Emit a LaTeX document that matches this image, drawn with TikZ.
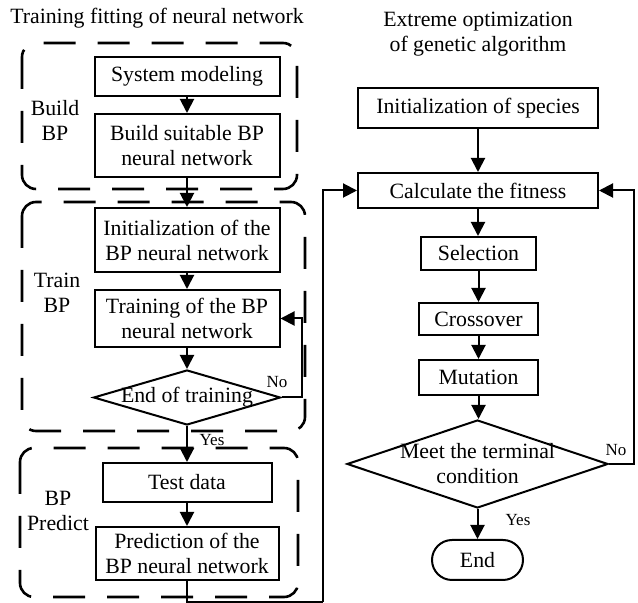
\documentclass[tikz,border=0pt]{standalone}
\usepackage{fontspec}
\setmainfont{Liberation Serif}
\usetikzlibrary{positioning, calc, arrows.meta, shapes.geometric}

\begin{document}
\begin{tikzpicture}[x=0.5pt, y=-0.5pt, font=\fontsize{10.9}{12.5}\selectfont,
    every node/.style={inner sep=0pt, align=center},
    box/.style={draw, line width=1pt},
    dec/.style={draw, line width=1pt, shape=diamond},
    group/.style={draw, line width=1.3pt, rounded corners=7pt, dash pattern=on 16pt off 11pt},
    line/.style={line width=1pt},
    arr/.style={line width=1pt, -{Triangle[length=7pt, width=7pt]}},
    tag/.style={font=\fontsize{8.5}{10}\selectfont}]
    \useasboundingbox (0,0) rectangle (638,603);

    % titles
    \node (ttl) at (157,18) {Training fitting of neural network};
    \node (ttr) at (478,34.5) {Extreme optimization\\of genetic algorithm};

    % groups on the left
    \draw[group] (22,43) rectangle (297,189);
    \draw[group] (22,202) rectangle (305,431);
    \draw[group] (20,448) rectangle (298,597);
    \node (gbuild) at (55,120) {Build\\BP};
    \node (gtrain) at (57,293) {Train\\BP};
    \node (gpred) at (58,511) {BP\\Predict};

    % left column
    \node[box, minimum width=92.5pt, minimum height=19.5pt] (sysmod) at (187,76.5) {System modeling};
    \node[box, minimum width=92.5pt, minimum height=31.5pt] (buildbp) at (187,145.5) {Build suitable BP\\neural network};
    \node[box, minimum width=92.5pt, minimum height=32pt] (initbp) at (187,240) {Initialization of the\\BP neural network};
    \node[box, minimum width=92.5pt, minimum height=28.5pt] (trainbp) at (187,318.5) {Training of the BP\\neural network};
    \node[dec, minimum width=93.5pt, minimum height=27.5pt, label={center:End of training}] (endtrain) at (187,397.5) {};
    \node[box, minimum width=84.5pt, minimum height=19.5pt] (testdata) at (187,482.5) {Test data};
    \node[box, minimum width=91.5pt, minimum height=26.5pt] (predict) at (187,553.5) {Prediction of the\\BP neural network};

    % right column
    \node[box, minimum width=120pt, minimum height=20pt] (initsp) at (478,108) {Initialization of species};
    \node[box, minimum width=120pt, minimum height=17.5pt] (fitness) at (478,190.5) {Calculate the fitness};
    \node[box, minimum width=57.5pt, minimum height=16.5pt] (select) at (478.5,253.5) {Selection};
    \node[box, minimum width=59.5pt, minimum height=16pt] (cross) at (478.5,319) {Crossover};
    \node[box, minimum width=59.5pt, minimum height=17.5pt] (mutate) at (478.5,377.5) {Mutation};
    \node[dec, minimum width=130.5pt, minimum height=44pt, label={[align=center]center:Meet the terminal\\condition}] (meet) at (477.5,464) {};
    \node[box, rounded corners=10pt, minimum width=45.5pt, minimum height=20pt] (endn) at (477.5,560) {End};

    \coordinate (lb) at (323,602);

    % connectors on the left
    \draw[arr] (sysmod) -- (buildbp);
    \draw[arr] (buildbp) -- (initbp);
    \draw[arr] (initbp) -- (trainbp);
    \draw[arr] (trainbp) -- (endtrain);
    \draw[arr] (endtrain.east) -- ++(10pt,0) |- (trainbp.east);
    \node[tag] (no1) at (277,382) {No};
    \draw[arr] (endtrain) -- (testdata);
    \node[tag] (yes1) at (212,440) {Yes};
    \draw[arr] (testdata) -- (predict);
    \draw[line] (predict.south) |- (lb);
    \draw[arr] (lb) |- (fitness.west);

    % connectors on the right
    \draw[arr] (initsp) -- (fitness);
    \draw[arr] (fitness.south) -- (fitness.south |- select.north);
    \draw[arr] (select) -- (cross);
    \draw[arr] (cross) -- (mutate);
    \draw[arr] (mutate.south) -- (mutate.south |- meet.north);
    \draw[arr] (meet.east) -- ++(12.5pt,0) |- (fitness.east);
    \node[tag] (no2) at (616,450) {No};
    \draw[arr] (meet) -- (endn);
    \node[tag] (yes2) at (518,520) {Yes};
\end{tikzpicture}
\end{document}
